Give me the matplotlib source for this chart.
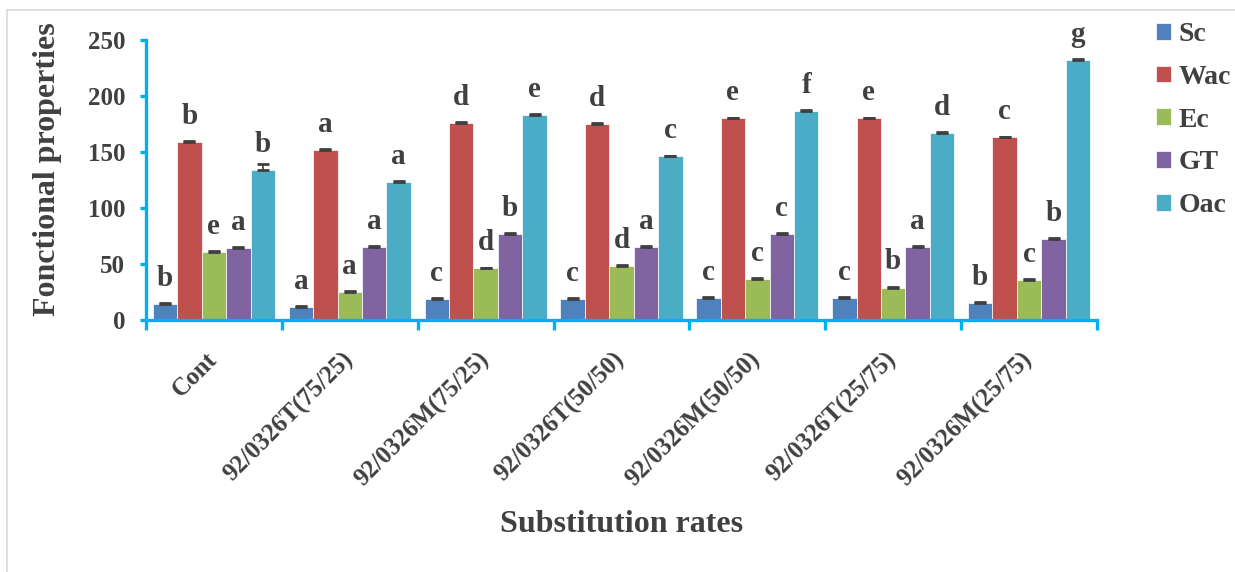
#%% IMPORTS
import numpy as np
import matplotlib as mpl
import matplotlib.pyplot as plt

plt.rcParams['font.family'] = ['Liberation Serif', 'DejaVu Serif']
plt.rcParams['font.weight'] = 'bold'

##########
#%% DATA
categories = ['Cont', '92/0326T(75/25)', '92/0326M(75/25)', '92/0326T(50/50)',
              '92/0326M(50/50)', '92/0326T(25/75)', '92/0326M(25/75)']
series = ['Sc', 'Wac', 'Ec', 'GT', 'Oac']

sc  = [14, 12, 19, 19, 20, 20, 15]
wac = [159, 152, 176, 175, 180, 180, 163]
ec  = [60.5, 25, 46, 48, 37, 29, 36]
gt  = [64.5, 65, 77, 65.5, 77, 65.5, 72]
oac = [134, 123, 183, 146, 187, 167, 232]

sc_err  = [0.8, 0.8, 0.8, 0.8, 0.8, 0.8, 0.8]
wac_err = [0.8, 0.8, 0.8, 0.8, 0.8, 0.8, 0.8]
ec_err  = [0.8, 0.8, 0.8, 0.8, 0.8, 0.8, 0.8]
gt_err  = [0.8, 0.8, 0.8, 0.8, 0.8, 0.8, 0.8]
oac_err = [5.0, 0.8, 0.8, 0.8, 0.8, 0.8, 0.8]

sc_let  = ['b', 'a', 'c', 'c', 'c', 'c', 'b']
wac_let = ['b', 'a', 'd', 'd', 'e', 'e', 'c']
ec_let  = ['e', 'a', 'd', 'd', 'c', 'b', 'c']
gt_let  = ['a', 'a', 'b', 'a', 'c', 'a', 'b']
oac_let = ['b', 'a', 'e', 'c', 'f', 'd', 'g']

##########
#%% STYLE
colors = ['#4F81BD', '#C0504D', '#9BBB59', '#8064A2', '#4BACC6']
axcolor = '#00B0F0'
txtcolor = '#404040'
W, H = 1235, 572

values = [sc, wac, ec, gt, oac]
errs = [sc_err, wac_err, ec_err, gt_err, oac_err]
letters = [sc_let, wac_let, ec_let, gt_let, oac_let]

#############
#%% PLOT
f = plt.figure(figsize=(W/100, H/100), dpi=100)
ax = f.add_axes([146/W, 1-320/H, (1097-146)/W, 280/H])

### light frame around the chart area
f.patches.append(mpl.patches.Rectangle(
    (7/W, -0.1), 1.2, 1-10/H+0.1, transform=f.transFigure,
    facecolor='none', edgecolor='#D9D9D9', lw=1.2, zorder=-10))

x = np.arange(len(categories)) + 0.5
bw = 0.18
for i, (name, vals) in enumerate(zip(series, values)):
    xpos = x + (i-2)*bw
    ax.bar(xpos, vals, width=bw, color=colors[i], edgecolor='white', lw=0.5,
           label=name, zorder=2)
    ax.errorbar(xpos, vals, yerr=[np.zeros(len(vals)), errs[i]], fmt='none',
                ecolor='#404040', elinewidth=1.2, capsize=4, capthick=2, zorder=3)
    for xx, v, l in zip(xpos, vals, letters[i]):
        ax.annotate(l, (xx, v), xytext=(0, 13), textcoords='offset points',
                    ha='center', va='baseline', fontsize=21, fontweight='bold',
                    color=txtcolor)

### Formatting
ax.set_xlim(0, 7)
ax.set_ylim(0, 250)
ax.set_yticks(np.arange(0, 251, 50))
for s in ['top', 'right']:
    ax.spines[s].set_visible(False)
for s in ['left', 'bottom']:
    ax.spines[s].set_color(axcolor)
    ax.spines[s].set_linewidth(2.4)
ax.tick_params(axis='y', direction='out', length=4, width=2.4, color=axcolor,
               labelsize=18, labelcolor=txtcolor, pad=11)
ax.set_xticks(x)
ax.set_xticklabels(categories, rotation=45, ha='right', va='center',
                   rotation_mode='anchor', fontsize=18, color=txtcolor)
ax.tick_params(axis='x', which='major', length=0, pad=26)
ax.set_xticks(np.arange(0, 8), minor=True)
ax.tick_params(axis='x', which='minor', direction='out', length=7, width=2.4,
               color=axcolor)
for t in ax.get_yticklabels():
    t.set_fontweight('bold')

ax.set_ylabel('Fonctional properties', fontsize=23, fontweight='bold', color=txtcolor)
ax.yaxis.set_label_coords(-0.088, 0.54)
ax.set_xlabel('Substitution rates', fontsize=23, fontweight='bold', color=txtcolor)
ax.xaxis.set_label_coords(0.5, -0.68)

leg = ax.legend(loc='upper left', bbox_to_anchor=(1145/W, 1-11/H),
                bbox_transform=f.transFigure, frameon=False,
                prop={'family': 'Liberation Serif', 'weight': 'bold', 'size': 20},
                handlelength=0.55, handleheight=0.55, handletextpad=0.25,
                labelspacing=0.64, borderaxespad=0)
for t in leg.get_texts():
    t.set_color(txtcolor)

f.savefig('out.png', dpi=100)
